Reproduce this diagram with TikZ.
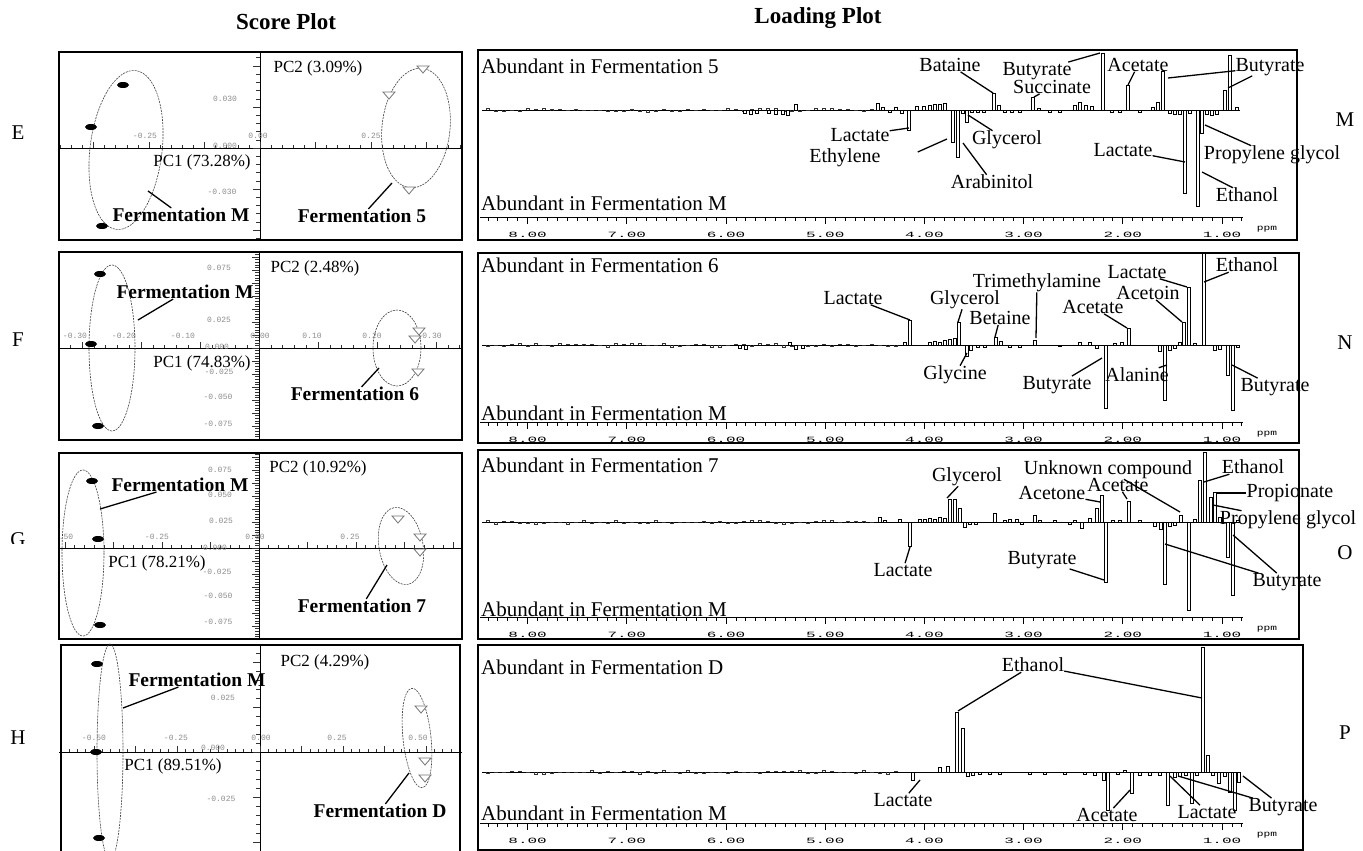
\documentclass[tikz,border=0pt]{standalone}
\usepackage{fontspec}
\setmainfont{Liberation Serif}
\newfontfamily\tickfont{Liberation Mono}
\usetikzlibrary{positioning, calc}
\tikzset{
    plot_title/.style={
        font=\bfseries\fontsize{23}{25}\selectfont,
        inner sep=0pt
    },
    row_letter/.style={
        font=\fontsize{21}{23}\selectfont,
        inner sep=0pt
    },
    frame_box/.style={
        draw=black,
        line width=2.2pt
    },
    score_axis/.style={
        draw=black,
        line width=0.9pt
    },
    score_tick/.style={
        draw=black!80,
        line width=0.6pt
    },
    tick_lbl/.style={
        font=\tickfont\fontsize{8}{8}\selectfont,
        text=black!45,
        inner sep=0pt
    },
    pc_lbl/.style={
        font=\fontsize{17}{18}\selectfont,
        inner sep=0pt
    },
    ferm_lbl/.style={
        font=\bfseries\fontsize{19.5}{21}\selectfont,
        inner sep=0pt
    },
    group_ellipse/.style={
        draw=black!75,
        line width=0.6pt,
        dash pattern=on 2pt off 1pt
    },
    ferm_m_dot/.style={
        fill=black
    },
    ferm_tri/.style={
        draw=black!55,
        line width=0.8pt,
        fill=white
    },
    pointer_line/.style={
        draw=black,
        line width=1.3pt
    },
    abund_lbl/.style={
        font=\fontsize{21}{23}\selectfont,
        anchor=west,
        inner sep=0pt
    },
    cmpd_lbl/.style={
        font=\fontsize{20}{22}\selectfont,
        inner sep=0pt
    },
    base_line/.style={
        draw=black,
        line width=0.8pt
    },
    noise_line/.style={
        draw=black!80,
        line width=0.5pt
    },
    peak_bar/.style={
        draw=black,
        fill=white,
        line width=0.8pt
    },
    ruler_line/.style={
        draw=black,
        line width=0.8pt
    },
    ppm_lbl/.style={
        font=\tickfont\fontsize{8}{8}\selectfont,
        inner sep=0pt
    }
}
% axes of a score plot: x0, y0, h step, v step, top, bottom
\newcommand{\scoreaxes}[6]{
    \begin{scope}
        \clip (59,#5) rectangle (462,#6);
        \draw[score_axis] (59,#2) -- (462,#2);
        \draw[score_axis] (#1,#5) -- (#1,#6);
        \foreach \i in {-45,...,45} {
            \pgfmathsetmacro{\ticklen}{mod(\i,5)==0 ? 6 : 3}
            \draw[score_tick] ({#1+(\i)*#3},#2) -- ++(0,-\ticklen);
            \draw[score_tick] (#1,{#2+(\i)*#4}) -- ++({-\ticklen-1},0);
        }
    \end{scope}
}
% ppm ruler of a loading plot: row name, ruler y
\newcommand{\ppmaxis}[2]{
    \draw[ruler_line] (480,#2) -- (1243,#2);
    \foreach \k in {8,...,84} {
        \pgfmathsetmacro{\ticklen}{mod(\k,10)==0 ? 7 : 4}
        \draw[ruler_line] ({1321.2-9.92*\k},#2) -- ++(0,\ticklen);
    }
    \foreach \v in {1,...,8}
        \node[ppm_lbl] (#1_ppm\v) at ({1321.2-99.2*\v},#2+17.5) {\scalebox{2}[1]{\v.00}};
    \node[ppm_lbl] (#1_ppm) at (1267,#2+12) {\scalebox{1.4}[1]{ppm}};
}
% bars of a loading plot: baseline y, list of x/h (h>0 up)
\newcommand{\peaks}[2]{
    \foreach \px/\ph in {#2}
        \draw[peak_bar] ({\px-1.6},#1) rectangle ({\px+1.6},{#1-(\ph)});
}
% small wiggles along a baseline: y, first x, second x, last x
\newcommand{\noise}[4]{
    \foreach \nx in {#2,#3,...,#4} {
        \pgfmathsetmacro{\nh}{rnd*4-2}
        \draw[noise_line] (\nx,#1) -- ++(0,{-\nh}) -- ++(3,0) -- ++(0,\nh);
    }
}

\begin{document}
\begin{tikzpicture}[x=1pt, y=-1pt]
\useasboundingbox (0,0) rectangle (1363,851);
\pgfmathsetseed{7}

% --- Titles ---
\node[plot_title] (score_title) at (286,22) {Score Plot};
\node[plot_title] (load_title) at (818,18) {Loading Plot};

% --- Row letters ---
\foreach \lt/\ly in {E/133, F/340, H/738}
    \node[row_letter] (left_\lt) at (18,\ly) {\lt};
\begin{scope}
    \clip (0,520) rectangle (40,543);
    \node[row_letter] (left_G) at (18,540) {G};
\end{scope}
\foreach \lt/\ly in {M/120, N/343, O/553, P/733}
    \node[row_letter] (right_\lt) at (1345,\ly) {\lt};

% --- Row E: score plot ---
\scoreaxes{260}{148}{11.1}{8.2}{52}{240}
\draw[frame_box] (59,52) rectangle (462,240);
\foreach \x/\y/\t [count=\k] in {225/99/0.030, 145/136/-0.25, 258/136/0.00, 371/136/0.25, 225/146/0.000, 222/192/-0.030}
    \node[tick_lbl] (s1_t\k) at (\x,\y) {\t};
\draw[group_ellipse, rotate around={-7:(126,150)}] (126,150) ellipse (36 and 80);
\draw[group_ellipse, rotate around={-6:(416,128)}] (416,128) ellipse (34 and 60);
\foreach \x/\y in {123/85, 91/127, 102/226}
    \fill[ferm_m_dot] (\x,\y) ellipse (6 and 3);
\foreach \x/\y in {423/69, 389/95, 409/190}
    \draw[ferm_tri] (\x-6,\y-3) -- (\x+6,\y-3) -- (\x,\y+4) -- cycle;
\node[pc_lbl] (s1_pc2) at (318,68) {PC2 (3.09\%)};
\node[pc_lbl] (s1_pc1) at (202,162) {PC1 (73.28\%)};
\node[ferm_lbl] (s1_fm) at (181,215) {Fermentation M};
\node[ferm_lbl] (s1_f5) at (362,216) {Fermentation 5};
\coordinate (s1_fm_tip) at (148,191);
\coordinate (s1_f5_tip) at (392,183);
\draw[pointer_line] (s1_fm) -- (s1_fm_tip);
\draw[pointer_line] (s1_f5) -- (s1_f5_tip);

% --- Row E: loading plot ---
\draw[frame_box] (478,50) rectangle (1297,240);
\node[abund_lbl] (r1_top) at (481,66) {Abundant in Fermentation 5};
\node[abund_lbl] (r1_bot) at (481,203) {Abundant in Fermentation M};
\draw[base_line] (482,110) -- (1240,110);
\noise{110}{486}{494}{870}
\peaks{110}{745/-3, 751/-4, 757/-3, 769/-3, 776/-4, 783/-4, 788/-5, 796/6, 878/7, 883/3, 890/-2, 896/3, 902/-3, 909/-20, 917/4, 924/4, 930/5, 935/6, 940/6, 945/7, 953/-32, 958/-47, 963/-3, 967/-12, 972/-2, 978/-2, 984/-2, 994/17, 999/5, 1005/-2, 1012/-2, 1020/-2, 1033/13, 1039/2, 1050/-2, 1060/-2, 1075/5, 1080/8, 1086/5, 1092/4, 1103/57, 1112/-2, 1120/-2, 1128/25, 1140/-2, 1153/3, 1158/8, 1163/39, 1170/-3, 1175/-4, 1180/-4, 1185/-83, 1190/-3, 1198/-96, 1202/-23, 1207/-4, 1212/-5, 1217/-4, 1225/20, 1230/55, 1237/3}
\ppmaxis{r1}{217}
\node[cmpd_lbl] (r1_lac) at (860,135) {Lactate};
\node[cmpd_lbl] (r1_ethy) at (845,158) {Ethylene};
\node[cmpd_lbl] (r1_gly) at (1007,140) {Glycerol};
\node[cmpd_lbl] (r1_arab) at (992,182) {Arabinitol};
\node[cmpd_lbl] (r1_bat) at (950,65) {Bataine};
\node[cmpd_lbl] (r1_but) at (1037,71) {Butyrate};
\node[cmpd_lbl] (r1_suc) at (1052,87) {Succinate};
\node[cmpd_lbl] (r1_ace) at (1138,65) {Acetate};
\node[cmpd_lbl] (r1_butR) at (1270,67) {Butyrate};
\node[cmpd_lbl] (r1_lacR) at (1123,150) {Lactate};
\node[cmpd_lbl] (r1_prop) at (1272,155) {Propylene glycol};
\node[cmpd_lbl] (r1_eth) at (1247,195) {Ethanol};
\coordinate (r1_lac_tip) at (909,128);
\coordinate (r1_ethy_tip) at (947,139);
\coordinate (r1_gly_tip) at (968,115);
\coordinate (r1_arab_tip) at (963,143);
\coordinate (r1_bat_tip) at (993,93);
\coordinate (r1_but_tip) at (1100,53);
\coordinate (r1_suc_tip) at (1034,97);
\coordinate (r1_ace_tip) at (1128,85);
\coordinate (r1_butR_tipA) at (1168,78);
\coordinate (r1_butR_tipB) at (1228,88);
\coordinate (r1_lacR_tip) at (1185,162);
\coordinate (r1_prop_tip) at (1205,125);
\coordinate (r1_eth_tip) at (1202,172);
\draw[pointer_line] (r1_lac) -- (r1_lac_tip);
\draw[pointer_line] ([shift={(37,-6)}]r1_ethy.east) -- (r1_ethy_tip);
\draw[pointer_line] (r1_gly) -- (r1_gly_tip);
\draw[pointer_line] (r1_arab) -- (r1_arab_tip);
\draw[pointer_line] (r1_bat) -- (r1_bat_tip);
\draw[pointer_line] (r1_but) -- (r1_but_tip);
\draw[pointer_line] (r1_suc) -- (r1_suc_tip);
\draw[pointer_line] (r1_ace) -- (r1_ace_tip);
\draw[pointer_line] (r1_butR) -- (r1_butR_tipA);
\draw[pointer_line] (r1_butR) -- (r1_butR_tipB);
\draw[pointer_line] (r1_lacR) -- (r1_lacR_tip);
\draw[pointer_line] (r1_prop) -- (r1_prop_tip);
\draw[pointer_line] (r1_eth) -- (r1_eth_tip);

% --- Row F: score plot ---
\scoreaxes{259}{348}{11.8}{2.6}{252}{440}
\draw[frame_box] (59,252) rectangle (462,440);
\foreach \x/\y/\t [count=\k] in {219/268/0.075, 219/320/0.025, 75/336/-0.30, 124/336/-0.20, 183/336/-0.10, 260/336/0.00, 312/336/0.10, 372/336/0.20, 432/336/0.30, 217/347/0.000, 219/372/-0.025, 218/397/-0.050, 218/424/-0.075}
    \node[tick_lbl] (s2_t\k) at (\x,\y) {\t};
\draw[group_ellipse] (112,348) ellipse (23 and 83);
\draw[group_ellipse] (397,348) ellipse (24 and 38);
\foreach \x/\y in {100/274, 91/344, 98/426}
    \fill[ferm_m_dot] (\x,\y) ellipse (6 and 3);
\foreach \x/\y in {419/331, 415/339, 418/372}
    \draw[ferm_tri] (\x-6,\y-3) -- (\x+6,\y-3) -- (\x,\y+4) -- cycle;
\node[pc_lbl] (s2_pc2) at (315,268) {PC2 (2.48\%)};
\node[pc_lbl] (s2_pc1) at (202,363) {PC1 (74.83\%)};
\node[ferm_lbl] (s2_fm) at (185,292) {Fermentation M};
\node[ferm_lbl] (s2_f6) at (355,394) {Fermentation 6};
\coordinate (s2_fm_tip) at (138,320);
\coordinate (s2_f6_tip) at (379,368);
\draw[pointer_line] (s2_fm) -- (s2_fm_tip);
\draw[pointer_line] (s2_f6) -- (s2_f6_tip);

% --- Row F: loading plot ---
\draw[frame_box] (478,253) rectangle (1299,443);
\node[abund_lbl] (r2_top) at (481,265) {Abundant in Fermentation 6};
\node[abund_lbl] (r2_bot) at (481,413) {Abundant in Fermentation M};
\draw[base_line] (482,345) -- (1240,345);
\noise{345}{486}{494}{900}
\peaks{345}{740/-3, 746/-4, 790/3, 796/-4, 803/-3, 905/3, 910/25, 930/3, 935/4, 940/3, 945/5, 950/6, 955/7, 959/23, 967/-11, 971/-5, 978/-2, 985/-2, 996/8, 1001/4, 1010/-2, 1020/-2, 1035/5, 1060/-1, 1080/3, 1090/3, 1097/-3, 1106/-63, 1115/2, 1122/3, 1129/17, 1160/-6, 1165/-55, 1170/-5, 1175/-3, 1180/3, 1184/23, 1189/58, 1195/2, 1204/92, 1215/-5, 1220/-4, 1228/-30, 1233/-65, 1238/-2}
\ppmaxis{r2}{422}
\node[cmpd_lbl] (r2_lac) at (853,298) {Lactate};
\node[cmpd_lbl] (r2_gly) at (965,300) {Glycerol};
\node[cmpd_lbl] (r2_bet) at (1000,318) {Betaine};
\node[cmpd_lbl] (r2_tma) at (1037,283) {Trimethylamine};
\node[cmpd_lbl] (r2_ace) at (1093,307) {Acetate};
\node[cmpd_lbl] (r2_acn) at (1148,293) {Acetoin};
\node[cmpd_lbl] (r2_lacR) at (1137,272) {Lactate};
\node[cmpd_lbl] (r2_eth) at (1247,265) {Ethanol};
\node[cmpd_lbl] (r2_glc) at (955,375) {Glycine};
\node[cmpd_lbl] (r2_but) at (1057,385) {Butyrate};
\node[cmpd_lbl] (r2_ala) at (1137,375) {Alanine};
\node[cmpd_lbl] (r2_butR) at (1275,387) {Butyrate};
\coordinate (r2_lac_tip) at (910,320);
\coordinate (r2_gly_tip) at (958,322);
\coordinate (r2_bet_tip) at (995,337);
\coordinate (r2_tma_tip) at (1036,338);
\coordinate (r2_ace_tip) at (1127,328);
\coordinate (r2_acn_tip) at (1182,322);
\coordinate (r2_lacR_tip) at (1187,287);
\coordinate (r2_eth_tip) at (1204,282);
\coordinate (r2_glc_tip) at (967,353);
\coordinate (r2_but_tip) at (1102,358);
\coordinate (r2_ala_tip) at (1167,365);
\coordinate (r2_butR_tip) at (1232,365);
\draw[pointer_line] (r2_lac) -- (r2_lac_tip);
\draw[pointer_line] (r2_gly) -- (r2_gly_tip);
\draw[pointer_line] (r2_bet) -- (r2_bet_tip);
\draw[pointer_line] (r2_tma) -- (r2_tma_tip);
\draw[pointer_line] (r2_ace) -- (r2_ace_tip);
\draw[pointer_line] (r2_acn) -- (r2_acn_tip);
\draw[pointer_line] (r2_lacR) -- (r2_lacR_tip);
\draw[pointer_line] (r2_eth) -- (r2_eth_tip);
\draw[pointer_line] (r2_glc) -- (r2_glc_tip);
\draw[pointer_line] (r2_but) -- (r2_but_tip);
\draw[pointer_line] (r2_ala) -- (r2_ala_tip);
\draw[pointer_line] (r2_butR) -- (r2_butR_tip);

% --- Row G: score plot ---
\scoreaxes{259}{548}{9.7}{2.6}{453}{639}
\draw[frame_box] (59,453) rectangle (462,639);
\foreach \x/\y/\t [count=\k] in {220/470/0.075, 220/495/0.050, 221/521/0.025, 66/537/.50, 157/537/-0.25, 255/537/0.00, 350/537/0.25, 215/548/0.000, 217/572/-0.025, 218/596/-0.050, 218/622/-0.075}
    \node[tick_lbl] (s3_t\k) at (\x,\y) {\t};
\draw[group_ellipse] (83,553) ellipse (21 and 83);
\draw[group_ellipse, rotate around={10:(401,546)}] (401,546) ellipse (22 and 39);
\foreach \x/\y in {92/481, 98/539, 100/625}
    \fill[ferm_m_dot] (\x,\y) ellipse (6 and 3);
\foreach \x/\y in {398/519, 420/537, 420/552}
    \draw[ferm_tri] (\x-6,\y-3) -- (\x+6,\y-3) -- (\x,\y+4) -- cycle;
\node[pc_lbl] (s3_pc2) at (318,468) {PC2 (10.92\%)};
\node[pc_lbl] (s3_pc1) at (157,563) {PC1 (78.21\%)};
\node[ferm_lbl] (s3_fm) at (180,485) {Fermentation M};
\node[ferm_lbl] (s3_f7) at (362,606) {Fermentation 7};
\coordinate (s3_fm_tip) at (100,509);
\coordinate (s3_f7_tip) at (387,565);
\draw[pointer_line] (s3_fm) -- (s3_fm_tip);
\draw[pointer_line] (s3_f7) -- (s3_f7_tip);

% --- Row G: loading plot ---
\draw[frame_box] (478,450) rectangle (1299,639);
\node[abund_lbl] (r3_top) at (481,465) {Abundant in Fermentation 7};
\node[abund_lbl] (r3_bot) at (481,609) {Abundant in Fermentation M};
\draw[base_line] (482,522) -- (1240,522);
\noise{522}{486}{494}{870}
\peaks{522}{880/5, 885/2, 900/3, 910/-24, 920/3, 925/3, 930/4, 935/3, 940/5, 945/4, 950/23, 955/23, 960/14, 965/-5, 970/-2, 976/-2, 995/9, 1005/2, 1010/3, 1017/3, 1022/-2, 1035/7, 1040/2, 1055/2, 1070/-2, 1075/2, 1082/-6, 1090/4, 1097/14, 1102/27, 1106/-60, 1113/2, 1120/2, 1129/21, 1140/2, 1155/-4, 1161/-7, 1165/-62, 1170/-4, 1175/-3, 1181/7, 1189/-88, 1195/3, 1200/42, 1205/70, 1211/25, 1215/30, 1220/5, 1228/-35, 1233/-73, 1238/2}
\ppmaxis{r3}{617}
\node[cmpd_lbl] (r3_lac) at (903,570) {Lactate};
\node[cmpd_lbl] (r3_gly) at (967,477) {Glycerol};
\node[cmpd_lbl] (r3_unk) at (1108,470) {Unknown compound};
\node[cmpd_lbl] (r3_acn) at (1052,493) {Acetone};
\node[cmpd_lbl] (r3_ace) at (1118,485) {Acetate};
\node[cmpd_lbl] (r3_eth) at (1253,467) {Ethanol};
\node[cmpd_lbl] (r3_pro) at (1290,493) {Propionate};
\node[cmpd_lbl] (r3_prop) at (1288,520) {Propylene glycol};
\node[cmpd_lbl] (r3_but) at (1042,560) {Butyrate};
\node[cmpd_lbl] (r3_butR) at (1287,582) {Butyrate};
\coordinate (r3_lac_tip) at (910,547);
\coordinate (r3_gly_tip) at (947,498);
\coordinate (r3_unk_tip) at (1180,512);
\coordinate (r3_acn_tip) at (1100,502);
\coordinate (r3_ace_tip) at (1127,499);
\coordinate (r3_eth_tip) at (1204,482);
\coordinate (r3_pro_tip) at (1216,493);
\coordinate (r3_prop_tip) at (1213,505);
\coordinate (r3_but_tip) at (1104,580);
\coordinate (r3_butR_tipA) at (1165,544);
\coordinate (r3_butR_tipB) at (1233,535);
\draw[pointer_line] (r3_lac) -- (r3_lac_tip);
\draw[pointer_line] (r3_gly) -- (r3_gly_tip);
\draw[pointer_line] (r3_unk) -- (r3_unk_tip);
\draw[pointer_line] (r3_acn) -- (r3_acn_tip);
\draw[pointer_line] (r3_ace) -- (r3_ace_tip);
\draw[pointer_line] (r3_eth) -- (r3_eth_tip);
\draw[pointer_line] (r3_pro) -- (r3_pro_tip);
\draw[pointer_line] (r3_prop) -- (r3_prop_tip);
\draw[pointer_line] (r3_but) -- (r3_but_tip);
\draw[pointer_line] (r3_butR) -- (r3_butR_tipA);
\draw[pointer_line] (r3_butR) -- (r3_butR_tipB);

% --- Row H: score plot ---
\scoreaxes{260}{752}{8.3}{9}{645}{860}
\draw[frame_box] (61,645) rectangle (460,860);
\foreach \x/\y/\t [count=\k] in {223/698/0.025, 94/738/-0.50, 176/738/-0.25, 261/738/0.00, 337/738/0.25, 418/738/0.50, 213/748/0.000, 221/799/-0.025}
    \node[tick_lbl] (s4_t\k) at (\x,\y) {\t};
\draw[group_ellipse] (110,752) ellipse (13 and 108);
\draw[group_ellipse, rotate around={6:(417,738)}] (417,738) ellipse (14 and 50);
\foreach \x/\y in {97/664, 96/752, 99/838}
    \fill[ferm_m_dot] (\x,\y) ellipse (6 and 3);
\foreach \x/\y in {421/709, 425/761, 425/778}
    \draw[ferm_tri] (\x-6,\y-3) -- (\x+6,\y-3) -- (\x,\y+4) -- cycle;
\node[pc_lbl] (s4_pc2) at (325,662) {PC2 (4.29\%)};
\node[pc_lbl] (s4_pc1) at (173,766) {PC1 (89.51\%)};
\node[ferm_lbl] (s4_fm) at (197,680) {Fermentation M};
\node[ferm_lbl] (s4_fD) at (380,811) {Fermentation D};
\coordinate (s4_fm_tip) at (123,708);
\coordinate (s4_fD_tip) at (409,773);
\draw[pointer_line] (s4_fm) -- (s4_fm_tip);
\draw[pointer_line] (s4_fD) -- (s4_fD_tip);

% --- Row H: loading plot ---
\draw[frame_box] (478,645) rectangle (1303,850);
\node[abund_lbl] (r4_top) at (481,667) {Abundant in Fermentation D};
\node[abund_lbl] (r4_bot) at (481,813) {Abundant in Fermentation M};
\draw[base_line] (482,772) -- (1240,772);
\noise{772}{486}{494}{900}
\peaks{772}{913/-8, 940/5, 948/6, 957/60, 963/44, 968/-4, 973/-3, 980/-2, 990/-2, 1000/-2, 1030/-2, 1045/-2, 1065/-2, 1085/-2, 1095/-3, 1104/-8, 1108/-38, 1118/-2, 1125/2, 1132/-21, 1140/-3, 1150/-3, 1160/-3, 1168/-33, 1175/-5, 1180/-4, 1186/-3, 1192/-31, 1197/-3, 1203/125, 1208/17, 1213/-3, 1219/-11, 1225/-4, 1230/-20, 1235/-38, 1239/-10}
\ppmaxis{r4}{823}
\node[cmpd_lbl] (r4_eth) at (1033,665) {Ethanol};
\node[cmpd_lbl] (r4_lac) at (903,800) {Lactate};
\node[cmpd_lbl] (r4_ace) at (1107,815) {Acetate};
\node[cmpd_lbl] (r4_lacR) at (1207,812) {Lactate};
\node[cmpd_lbl] (r4_butR) at (1283,807) {Butyrate};
\coordinate (r4_eth_tipA) at (958,711);
\coordinate (r4_eth_tipB) at (1202,698);
\coordinate (r4_lac_tip) at (920,780);
\coordinate (r4_ace_tip) at (1130,790);
\coordinate (r4_lacR_tip) at (1170,776);
\coordinate (r4_butR_tipA) at (1178,776);
\coordinate (r4_butR_tipB) at (1243,776);
\draw[pointer_line] (r4_eth) -- (r4_eth_tipA);
\draw[pointer_line] (r4_eth) -- (r4_eth_tipB);
\draw[pointer_line] (r4_lac) -- (r4_lac_tip);
\draw[pointer_line] (r4_ace) -- (r4_ace_tip);
\draw[pointer_line] (r4_lacR) -- (r4_lacR_tip);
\draw[pointer_line] (r4_butR) -- (r4_butR_tipA);
\draw[pointer_line] (r4_butR) -- (r4_butR_tipB);

\end{tikzpicture}
\end{document}
